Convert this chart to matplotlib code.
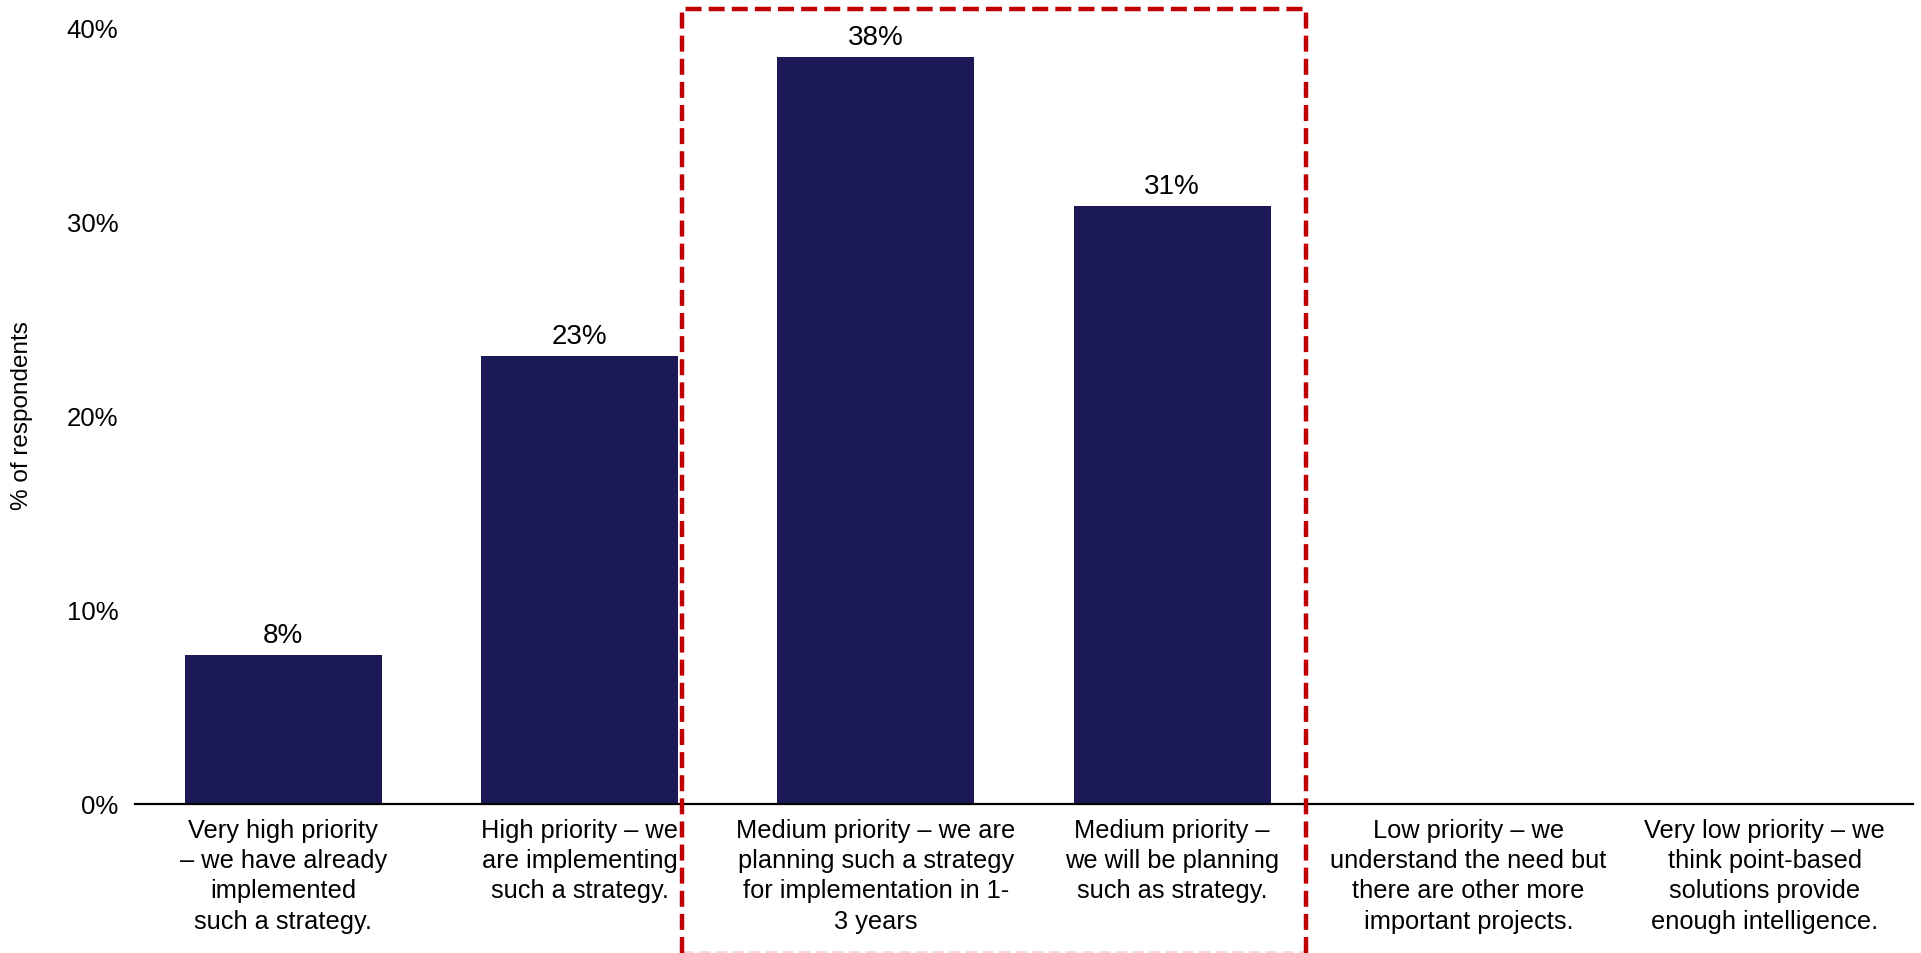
import matplotlib
matplotlib.use("Agg")
import matplotlib.pyplot as plt
from matplotlib.lines import Line2D

# survey results: share of respondents per priority level
categories = [
    "Very high priority\n\u2013 we have already\nimplemented\nsuch a strategy.",
    "High priority \u2013 we\nare implementing\nsuch a strategy.",
    "Medium priority \u2013 we are\nplanning such a strategy\nfor implementation in 1-\n3 years",
    "Medium priority \u2013\nwe will be planning\nsuch as strategy.",
    "Low priority \u2013 we\nunderstand the need but\nthere are other more\nimportant projects.",
    "Very low priority \u2013 we\nthink point-based\nsolutions provide\nenough intelligence.",
]
share = [7.69, 23.08, 38.46, 30.77, 0, 0]
yticks = [0, 10, 20, 30, 40]

navy = "#1b1956"
red = "#c00000"

plt.rcParams["font.family"] = ["Liberation Sans", "DejaVu Sans"]

W, H = 1921, 954
fig = plt.figure(figsize=(W / 100, H / 100), dpi=100)
ax = fig.add_axes([135 / W, (H - 805) / H, (1913 - 135) / W, (805 - 28) / H])

x = range(len(categories))
bars = ax.bar(x, share, width=0.665, color=navy, zorder=2)
for b, v in zip(bars, share):
    if v > 0:
        ax.text(b.get_x() + b.get_width() / 2, v + 0.35, f"{v:.0f}%",
                ha="center", va="bottom", fontsize=20, color="black",
                fontweight="medium")

ax.set_xlim(-0.5, len(categories) - 0.5)
ax.set_ylim(0, 40)
ax.set_yticks(yticks)
ax.set_yticklabels([f"{t}%" for t in yticks], fontsize=18.5)
ax.set_xticks(list(x))
ax.set_xticklabels(categories, fontsize=18.3, linespacing=1.33, va="top")
ax.tick_params(axis="both", length=0)
ax.tick_params(axis="y", pad=12)
ax.tick_params(axis="x", pad=10)
for s in ["top", "right", "left"]:
    ax.spines[s].set_visible(False)
ax.spines["bottom"].set_linewidth(1.6)
ax.spines["bottom"].set_color("black")

fig.text(22 / W, (H - 416) / H, "% of respondents", rotation=90,
         ha="center", va="center", fontsize=17.5)

# dashed highlight around the two medium priority answers
x0, x1 = 682 / W, 1306 / W
ytop, ybot = 1 - 10 / H, 0.0
fig.add_artist(Line2D([x0, x0, x1, x1], [ybot, ytop, ytop, ybot],
                      transform=fig.transFigure, color=red, lw=3.2,
                      linestyle=(0, (3.6, 1.6)), solid_joinstyle="round",
                      dash_joinstyle="round", dash_capstyle="butt", zorder=5))
fig.add_artist(Line2D([x0, x1], [1.5 / H, 1.5 / H], transform=fig.transFigure,
                      color=red, lw=2, alpha=0.15, linestyle=(0, (4, 2))))

fig.savefig("out.png", dpi=100, facecolor="white")
